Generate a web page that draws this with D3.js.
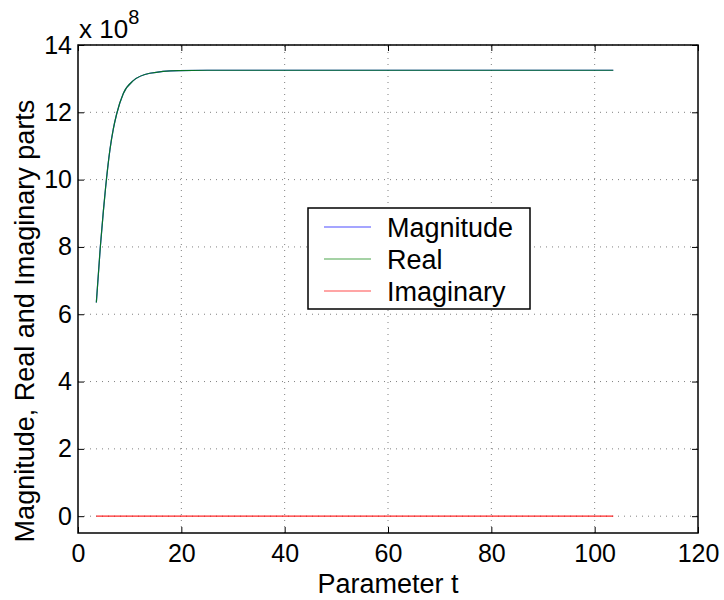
<!DOCTYPE html>
<html>
<head>
<meta charset="utf-8">
<script src="https://cdn.jsdelivr.net/npm/d3@7"></script>
<style>
  body { margin: 0; background: #fff; }
  text { font-family: "Liberation Sans", Arial, Helvetica, sans-serif; }
</style>
</head>
<body>
<svg id="chart"></svg>
<script>
// values (y in units of 1e8)
const tValues = [3.55, 4.32, 4.9, 5.3, 6.19, 6.83, 7.48, 8.77, 10.7, 13.9, 19.4, 25, 40, 60, 80, 103.6];
const magnitude = [6.35, 8.0, 9.05, 9.7, 10.9, 11.5, 11.95, 12.56, 12.94, 13.16, 13.24, 13.25, 13.25, 13.25, 13.25, 13.25];
const realPart = [6.35, 8.0, 9.05, 9.7, 10.9, 11.5, 11.95, 12.56, 12.94, 13.16, 13.24, 13.25, 13.25, 13.25, 13.25, 13.25];
const imagPart = [0, 0, 0, 0, 0, 0, 0, 0, 0, 0, 0, 0, 0, 0, 0, 0];
const xTicks = [0, 20, 40, 60, 80, 100, 120];
const yTicks = [0, 2, 4, 6, 8, 10, 12, 14];
const seriesNames = ["Magnitude", "Real", "Imaginary"];
const seriesColors = ["#0000ff", "#008000", "#ff0000"];

const width = 724, height = 600;
const margin = {left: 78, right: 26, top: 45, bottom: 67};
const svg = d3.select("#chart").attr("width", width).attr("height", height);

const x = d3.scaleLinear().domain([0, 120]).range([margin.left, width - margin.right]);
const y = d3.scaleLinear().domain([-0.5, 14]).range([height - margin.bottom, margin.top]);

const fontSize = 25;
const labelSize = 27;

// grid
const grid = svg.append("g").attr("class", "grid");
xTicks.slice(1, -1).forEach(function(t) {
	grid.append("line")
		.attr("x1", x(t)).attr("x2", x(t))
		.attr("y1", y(-0.5)).attr("y2", y(14))
		.style("stroke", "#808080").style("stroke-width", 1)
		.style("stroke-dasharray", "1 5");
});
yTicks.forEach(function(v) {
	grid.append("line")
		.attr("x1", x(0)).attr("x2", x(120))
		.attr("y1", y(v)).attr("y2", y(v))
		.style("stroke", "#808080").style("stroke-width", 1)
		.style("stroke-dasharray", "1 5");
});

// lines
const lineGen = d3.line()
	.x(function(d) { return x(d[0]); })
	.y(function(d) { return y(d[1]); })
	.curve(d3.curveMonotoneX);

[magnitude, realPart, imagPart].forEach(function(vals, i) {
	svg.append("path")
		.datum(tValues.map(function(t, k) { return [t, vals[k]]; }))
		.attr("d", lineGen)
		.style("fill", "none")
		.style("stroke", seriesColors[i])
		.style("stroke-width", 1.2)
		.style("opacity", 0.85);
});

// box
svg.append("rect")
	.attr("x", x(0)).attr("y", y(14))
	.attr("width", x(120) - x(0)).attr("height", y(-0.5) - y(14))
	.style("fill", "none").style("stroke", "#000").style("stroke-width", 1.5);

// axes (ticks inside, on all sides)
const tickLen = 6;
svg.append("g")
	.attr("transform", "translate(0," + y(-0.5) + ")")
	.call(d3.axisBottom(x).tickValues(xTicks).tickSizeInner(-tickLen).tickSizeOuter(0).tickPadding(11))
	.call(function(g) { g.select(".domain").remove(); });
svg.append("g")
	.attr("transform", "translate(0," + y(14) + ")")
	.call(d3.axisTop(x).tickValues(xTicks).tickSizeInner(-tickLen).tickSizeOuter(0).tickFormat(""))
	.call(function(g) { g.select(".domain").remove(); });
svg.append("g")
	.attr("transform", "translate(" + x(0) + ",0)")
	.call(d3.axisLeft(y).tickValues(yTicks).tickSizeInner(-tickLen).tickSizeOuter(0).tickPadding(6))
	.call(function(g) { g.select(".domain").remove(); });
svg.append("g")
	.attr("transform", "translate(" + x(120) + ",0)")
	.call(d3.axisRight(y).tickValues(yTicks).tickSizeInner(-tickLen).tickSizeOuter(0).tickFormat(""))
	.call(function(g) { g.select(".domain").remove(); });

svg.selectAll(".tick text")
	.style("font-size", fontSize + "px")
	.style("font-family", "'Liberation Sans', Arial, sans-serif")
	.attr("fill", "#000");
svg.selectAll(".tick line").attr("stroke", "#000");

// exponent label
const expo = svg.append("text")
	.attr("x", x(0) + 1)
	.attr("y", y(14) - 7)
	.style("font-size", "26px");
expo.append("tspan").text("x 10");
expo.append("tspan").attr("dy", -14).style("font-size", "20px").text("8");

// axis labels
svg.append("text")
	.attr("x", (x(0) + x(120)) / 2)
	.attr("y", 593)
	.attr("text-anchor", "middle")
	.style("font-size", labelSize + "px")
	.text("Parameter t");
svg.append("text")
	.attr("transform", "translate(34," + ((y(-0.5) + y(14)) / 2 + 32) + ") rotate(-90)")
	.attr("text-anchor", "middle")
	.style("font-size", labelSize + "px")
	.text("Magnitude, Real and Imaginary parts");

// legend
const legend = svg.append("g").attr("transform", "translate(308,208)");
legend.append("rect")
	.attr("width", 222).attr("height", 101)
	.style("fill", "#fff").style("stroke", "#000").style("stroke-width", 1.5);
seriesNames.forEach(function(name, i) {
	const ly = 19 + i * 32;
	legend.append("line")
		.attr("x1", 16).attr("x2", 63)
		.attr("y1", ly).attr("y2", ly)
		.style("stroke", seriesColors[i]).style("stroke-width", 1.2)
		.style("opacity", 0.7);
	legend.append("text")
		.attr("x", 79).attr("y", ly + 10)
		.style("font-size", labelSize + "px")
		.text(name);
});
</script>
</body>
</html>
